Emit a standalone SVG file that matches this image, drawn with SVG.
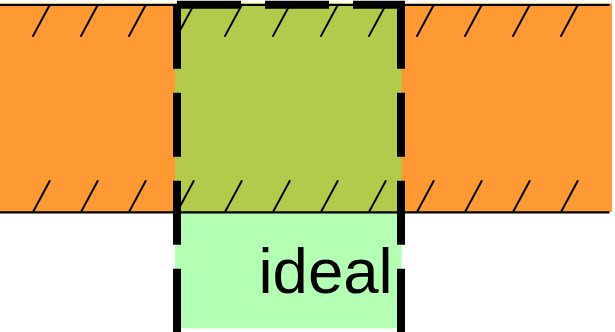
<svg xmlns="http://www.w3.org/2000/svg" width="615" height="332" viewBox="0 0 615 332">
  <style>
    .edge { stroke: #000; stroke-width: 2.2; fill: none; }
    .hatch { stroke: #000; stroke-width: 2; stroke-linecap: round; fill: none; }
    .frame { stroke: #000; stroke-width: 8; stroke-dasharray: 64 24; fill: none; }
    .label { font-family: "Liberation Sans", Arial, sans-serif; font-size: 63.5px; fill: #000; }
  </style>
  <defs>
    <path id="tick" d="M0,31 L16.7,0"/>
  </defs>

  <!-- wall band -->
  <g id="band">
    <rect x="0" y="3.3" width="612" height="208.7" fill="#ff9933"/>
    <rect x="175" y="3.3" width="226.7" height="208.7" fill="#b3cb4d"/>
  </g>

  <!-- ideal region below the band -->
  <g id="ideal">
    <rect x="175" y="212" width="226.7" height="116.3" fill="#b3ffb3"/>
    <text class="label" x="258.5" y="293.3">ideal</text>
  </g>

  <!-- band edges with hatching -->
  <g id="edges">
    <line class="edge" x1="0" y1="5" x2="609.5" y2="5"/>
    <line class="edge" x1="0" y1="212.3" x2="609.5" y2="212.3"/>
    <g id="hatch-top" class="hatch">
      <use href="#tick" x="33" y="5"/>
      <use href="#tick" x="81" y="5"/>
      <use href="#tick" x="129" y="5"/>
      <use href="#tick" x="177" y="5"/>
      <use href="#tick" x="225" y="5"/>
      <use href="#tick" x="273" y="5"/>
      <use href="#tick" x="321" y="5"/>
      <use href="#tick" x="369" y="5"/>
      <use href="#tick" x="417" y="5"/>
      <use href="#tick" x="465" y="5"/>
      <use href="#tick" x="513" y="5"/>
      <use href="#tick" x="561" y="5"/>
    </g>
    <g id="hatch-bottom" class="hatch">
      <use href="#tick" x="33" y="181"/>
      <use href="#tick" x="81" y="181"/>
      <use href="#tick" x="129" y="181"/>
      <use href="#tick" x="177" y="181"/>
      <use href="#tick" x="225" y="181"/>
      <use href="#tick" x="273" y="181"/>
      <use href="#tick" x="321" y="181"/>
      <use href="#tick" x="369" y="181"/>
      <use href="#tick" x="417" y="181"/>
      <use href="#tick" x="465" y="181"/>
      <use href="#tick" x="513" y="181"/>
      <use href="#tick" x="561" y="181"/>
    </g>
  </g>

  <!-- dashed outline of the ideal column -->
  <g id="outline">
    <line class="frame" x1="177" y1="4.7" x2="177" y2="332"/>
    <line class="frame" x1="401" y1="4.7" x2="401" y2="332"/>
    <line class="frame" x1="177" y1="4.7" x2="405" y2="4.7"/>
  </g>
</svg>
